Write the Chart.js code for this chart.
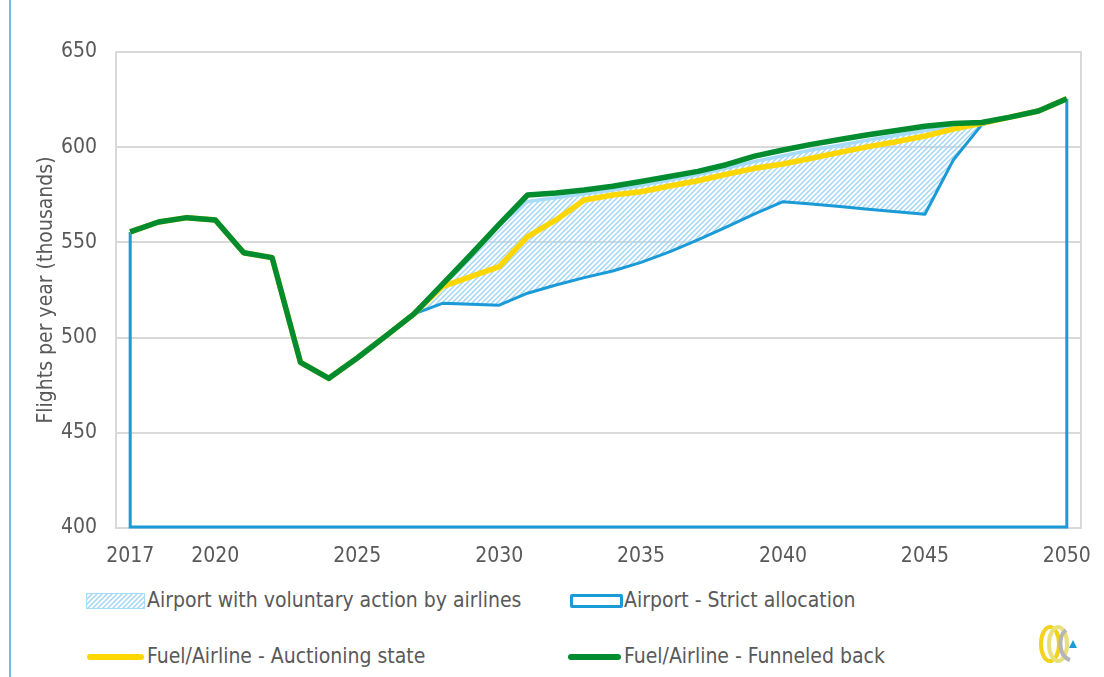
<!DOCTYPE html>
<html>
<head>
<meta charset="utf-8">
<script src="https://cdn.jsdelivr.net/npm/chart.js@4.4.1/dist/chart.umd.min.js"></script>
<style>
body{margin:0;width:1104px;height:677px;background:#fff;position:relative;overflow:hidden;
     font-family:"DejaVu Sans Condensed","DejaVu Sans",sans-serif;color:#595959;}
#frame{position:absolute;left:9px;top:0;width:2px;height:677px;background:#6cbfe8;}
#wrap{position:absolute;left:0;top:0;width:1104px;height:575px;}
.lg{position:absolute;font-size:21px;line-height:25px;white-space:nowrap;}
.sw{position:absolute;}
#logo{position:absolute;left:1036px;top:622px;}
</style>
</head>
<body>
<div id="frame"></div>
<div id="wrap"><canvas id="trend"></canvas></div>

<div class="sw" id="sw_vol" style="left:87px;top:594px;width:57px;height:14px;"></div>
<div class="lg" style="left:147px;top:588px;">Airport with voluntary action by airlines</div>
<div class="sw" style="left:570px;top:594px;width:47px;height:8px;border:3px solid #1a9ad6;border-radius:2px;"></div>
<div class="lg" style="left:624px;top:588px;">Airport - Strict allocation</div>
<div class="sw" style="left:87px;top:654px;width:57px;height:6px;background:#ffd700;border-radius:3px;"></div>
<div class="lg" style="left:147px;top:644px;">Fuel/Airline - Auctioning state</div>
<div class="sw" style="left:568px;top:654px;width:53px;height:6px;background:#008c2f;border-radius:3px;"></div>
<div class="lg" style="left:624px;top:644px;">Fuel/Airline - Funneled back</div>

<svg id="logo" width="50" height="46" viewBox="0 0 50 46">
  <ellipse cx="14" cy="22" rx="9" ry="17" fill="none" stroke="#f2d21b" stroke-width="4"/>
  <ellipse cx="22" cy="22" rx="9" ry="17" fill="none" stroke="#e8e07a" stroke-width="4"/>
  <path d="M30 8 C22 14 22 34 34 38" fill="none" stroke="#b5b5b5" stroke-width="4"/>
  <polygon points="33,26 41,26 37,18" fill="#1a9ad6"/>
</svg>

<script>
const years=["2017","2018","2019","2020","2021","2022","2023","2024","2025","2026","2027",
             "2028","2029","2030","2031","2032","2033","2034","2035","2036","2037","2038",
             "2039","2040","2041","2042","2043","2044","2045","2046","2047","2048","2049","2050"];
const shown_years=["2017","2020","2025","2030","2035","2040","2045","2050"];

const funneled_back=[555.5,560.7,563,561.8,544.6,542,487,478.6,489.3,500.8,512.5,
                     528,543.5,559.5,574.9,576,577.5,579.5,582,584.6,587.3,590.8,
                     595.3,598.5,601.5,604,606.5,608.8,611,612.5,613,615.8,619,625.5];
const auctioning=[555.5,560.7,563,561.8,544.6,542,487,478.6,489.3,500.8,512.5,
                  526.8,532,537.3,553,561.8,572.3,574.9,576.6,579.6,582.4,585.8,
                  588.9,591.2,594.2,597.3,600.3,602.9,605.9,609.5,612.5,615.8,619,625.5];
const voluntary=[555.5,560.7,563,561.8,544.6,542,487,478.6,489.3,500.8,512.5,
                 528,543.5,559.5,571.5,573.5,575.5,577.5,580,582.8,585.6,589,
                 592.5,595.5,598.5,601,603.8,606.3,608.8,611,612.8,615.8,619,625.5];
const strict_alloc=[555.5,560.7,563,561.8,544.6,542,487,478.6,489.3,500.8,512.5,
                    518,517.5,517,523.3,527.6,531.5,535,539.5,545,551.3,558,
                    565,571.4,570.2,568.8,567.4,566.1,564.8,593.3,611.7,615.8,619,625.5];
const y_ticks={min:400,max:650,step:50};

//***************************************************************************** */
function MakeHatch(size,color){
    let c=document.createElement("canvas");
    c.width=size;c.height=size;
    let g=c.getContext("2d");
    g.strokeStyle=color;
    g.lineWidth=1.5;
    g.beginPath();
    g.moveTo(0,size);g.lineTo(size,0);
    g.moveTo(-1,1);g.lineTo(1,-1);
    g.moveTo(size-1,size+1);g.lineTo(size+1,size-1);
    g.stroke();
    return c;
}
const hatch_canvas=MakeHatch(5,"#a3d6f6");
document.getElementById("sw_vol").style.background="url("+hatch_canvas.toDataURL()+")";
document.getElementById("sw_vol").style.outline="1.5px solid #a6dcf8";

//***************************************************************************** */
// plot frame + strict allocation outline down to the axis floor
const framePlugin={
    id:"framePlugin",
    beforeDatasetsDraw(chart){
        const a=chart.chartArea, ctx=chart.ctx;
        ctx.save();
        ctx.strokeStyle="#d9d9d9";ctx.lineWidth=2;
        ctx.strokeRect(a.left,a.top,a.right-a.left,a.bottom-a.top);
        let meta=chart.getDatasetMeta(3);
        let p0=meta.data[0], p1=meta.data[meta.data.length-1];
        let yb=chart.scales.y.getPixelForValue(y_ticks.min);
        ctx.strokeStyle="#1a9ad6";ctx.lineWidth=3;
        ctx.beginPath();
        ctx.moveTo(p0.x,p0.y);ctx.lineTo(p0.x,yb-1);ctx.lineTo(p1.x,yb-1);ctx.lineTo(p1.x,p1.y);
        ctx.stroke();
        ctx.restore();
    }
};

//***************************************************************************** */
function InitChart(){
    const ctx=document.getElementById("trend").getContext("2d");
    const hatch=ctx.createPattern(hatch_canvas,"repeat");
    return new Chart(ctx,{
        type:"line",
        data:{
            labels:years,
            datasets:[
                {label:"Fuel/Airline - Funneled back",data:funneled_back,borderColor:"#008c2f",borderWidth:5.5,fill:false},
                {label:"Fuel/Airline - Auctioning state",data:auctioning,borderColor:"#ffd700",borderWidth:5.5,fill:false},
                {label:"Airport with voluntary action by airlines",data:voluntary,borderColor:"#a6dcf8",borderWidth:3.5,
                 backgroundColor:hatch,fill:"+1"},
                {label:"Airport - Strict allocation",data:strict_alloc,borderColor:"#1a9ad6",borderWidth:3,fill:false},
            ]
        },
        options:{
            responsive:true,
            maintainAspectRatio:false,
            animation:false,
            elements:{point:{radius:0},line:{tension:0,borderJoinStyle:"round"}},
            layout:{padding:{top:52,right:23,left:0,bottom:0}},
            plugins:{legend:{display:false},tooltip:{enabled:false},filler:{drawTime:"beforeDatasetsDraw"}},
            scales:{
                x:{
                    type:"category",
                    offset:true,
                    grid:{display:false},
                    border:{display:false},
                    afterFit(s){s.height=47;},
                    ticks:{
                        autoSkip:false,maxRotation:0,padding:8,color:"#595959",
                        font:{family:"DejaVu Sans Condensed",size:21},
                        callback(v){let l=this.getLabelForValue(v);return shown_years.includes(l)?l:"";}
                    }
                },
                y:{
                    min:y_ticks.min,max:y_ticks.max,
                    grid:{color:"#d9d9d9",lineWidth:2,drawTicks:false},
                    border:{display:false},
                    afterFit(s){s.width=116;},
                    ticks:{stepSize:y_ticks.step,padding:19,color:"#595959",
                           font:{family:"DejaVu Sans Condensed",size:21}},
                    title:{display:true,text:"Flights per year (thousands)",color:"#595959",
                           padding:{top:34,bottom:0},
                           font:{family:"DejaVu Sans Condensed",size:21}}
                }
            }
        },
        plugins:[framePlugin]
    });
}
InitChart();
</script>
</body>
</html>
